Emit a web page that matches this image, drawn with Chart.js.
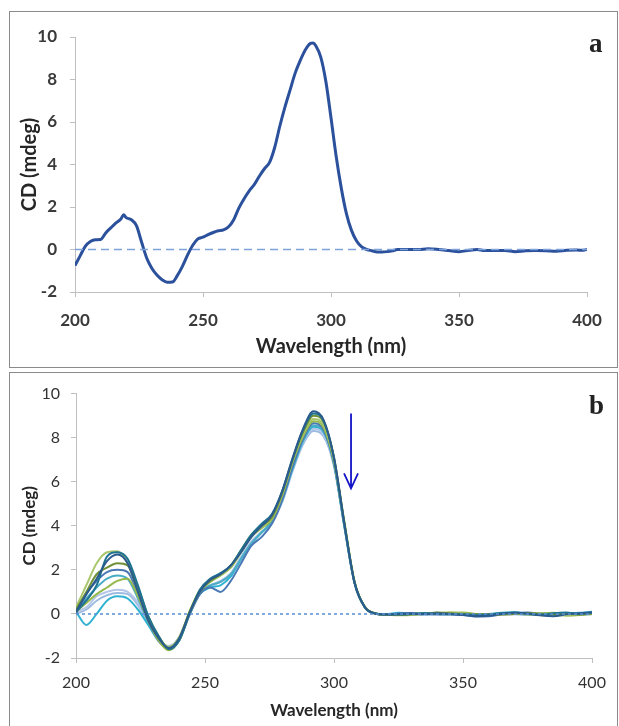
<!DOCTYPE html>
<html>
<head>
<meta charset="utf-8">
<script src="https://cdn.jsdelivr.net/npm/chart.js@4.4.1/dist/chart.umd.min.js"></script>
<style>
	html, body { margin: 0; padding: 0; background: #fff; }
	body { width: 619px; height: 726px; position: relative; overflow: hidden; }
	.panel { position: absolute; left: 9px; width: 607px; border: 1px solid #8a8a8a; background: #fff; }
	#panelA { top: 11px; height: 355px; }
	#panelB { top: 372px; height: 360px; }
	.panel canvas { position: absolute; left: 0; top: 0; }
	.tag { position: absolute; font-family: "Liberation Serif", serif; font-weight: bold; font-size: 27px; color: #222; }
</style>
</head>
<body>
<div class="panel" id="panelA"><canvas id="chartA" width="607" height="355"></canvas><div class="tag" style="left:579px;top:16px;">a</div></div>
<div class="panel" id="panelB"><canvas id="chartB" width="607" height="353"></canvas><div class="tag" style="left:579px;top:17px;">b</div></div>
<script>
// panel a: single CD spectrum
const wlA = [200, 202, 204, 206, 208, 210, 212, 214, 216, 218, 219, 220, 222, 224, 226, 228, 230, 232, 234, 236, 238, 240, 242, 244, 246, 248, 250, 252, 254, 256, 258, 260, 262, 264, 266, 268, 270, 272, 274, 276, 278, 280, 282, 284, 286, 288, 290, 292, 293, 294, 296, 298, 300, 302, 304, 306, 308, 310, 312, 314, 316, 318, 320, 322, 324, 326, 330, 334, 338, 342, 346, 350, 354, 357, 360, 364, 368, 372, 376, 380, 384, 388, 392, 396, 398, 400];
const cdA = [-0.75, -0.3, 0.15, 0.38, 0.46, 0.47, 0.78, 1.02, 1.25, 1.45, 1.63, 1.5, 1.4, 1.12, 0.35, -0.4, -0.88, -1.2, -1.42, -1.54, -1.53, -1.22, -0.78, -0.25, 0.2, 0.5, 0.58, 0.7, 0.8, 0.88, 0.92, 1.07, 1.4, 1.95, 2.38, 2.75, 3.05, 3.45, 3.8, 4.1, 4.8, 5.8, 6.7, 7.5, 8.3, 8.9, 9.4, 9.7, 9.72, 9.6, 9.05, 7.9, 6.2, 4.4, 2.9, 1.7, 0.9, 0.4, 0.12, 0.0, -0.06, -0.12, -0.12, -0.1, -0.06, 0.0, 0.0, 0.0, 0.03, 0.0, -0.05, -0.1, -0.04, 0.0, -0.05, -0.05, -0.05, -0.1, -0.06, -0.05, -0.06, -0.08, -0.04, -0.02, -0.04, 0.0];

// panel b: titration series, shared wavelength grid
const wlB = [200, 204, 208, 212, 216, 220, 224, 228, 232, 236, 240, 244, 248, 252, 256, 260, 264, 268, 272, 276, 280, 284, 288, 292, 296, 300, 304, 308, 312, 316, 320, 325, 330, 335, 340, 345, 350, 355, 360, 365, 370, 375, 380, 385, 390, 395, 400];
const cdB1 = [0.1, 0.9, 1.6, 2.4, 2.7, 2.3, 1.0, -0.3, -1.1, -1.55, -1.1, 0.05, 1.0, 1.55, 1.8, 2.2, 2.8, 3.5, 4.0, 4.5, 5.6, 7.1, 8.4, 9.2, 8.8, 7.1, 4.1, 1.4, 0.3, 0.02, -0.03, 0.0, 0.02, -0.02, 0.03, 0.0, -0.05, -0.1, -0.08, 0.0, 0.05, 0.02, -0.06, -0.1, -0.02, 0.03, 0.08];
const cdB2 = [0.1, 0.6, 1.3, 2.6, 2.8, 2.5, 1.3, -0.1, -1.0, -1.6, -1.2, 0.0, 1.1, 1.6, 1.85, 2.2, 2.9, 3.6, 4.1, 4.55, 5.6, 7.05, 8.35, 9.1, 8.75, 7.05, 4.1, 1.4, 0.3, 0.02, -0.02, -0.03, 0.0, 0.04, 0.0, -0.03, -0.02, -0.06, -0.03, 0.04, 0.06, 0.0, -0.04, 0.03, 0.06, 0.0, 0.05];
const cdB3 = [0.2, 1.0, 1.8, 2.1, 2.3, 2.2, 1.2, -0.1, -1.0, -1.6, -1.15, 0.1, 1.05, 1.5, 1.8, 2.2, 2.9, 3.6, 4.0, 4.4, 5.5, 7.0, 8.25, 9.0, 8.7, 7.1, 4.2, 1.45, 0.3, 0.02, -0.04, -0.05, -0.02, 0.0, 0.06, 0.03, 0.0, -0.02, 0.0, -0.03, 0.0, 0.04, 0.0, -0.02, 0.0, -0.04, 0.02];
const cdB4 = [0.3, 1.3, 2.3, 2.8, 2.85, 2.3, 1.0, -0.2, -1.05, -1.5, -1.05, 0.1, 1.1, 1.5, 1.75, 2.15, 2.85, 3.55, 3.95, 4.35, 5.45, 6.95, 8.15, 8.85, 8.55, 7.0, 4.15, 1.45, 0.32, 0.03, -0.02, -0.06, -0.05, 0.02, 0.04, 0.08, 0.02, -0.04, -0.05, 0.0, 0.03, -0.03, -0.06, -0.04, -0.08, -0.05, 0.0];
const cdB5 = [0.1, 0.5, 0.9, 1.2, 1.5, 1.6, 0.8, -0.3, -1.2, -1.65, -1.2, 0.0, 1.0, 1.45, 1.75, 2.1, 2.8, 3.5, 3.9, 4.3, 5.4, 6.9, 8.05, 8.75, 8.45, 6.9, 4.1, 1.4, 0.3, 0.02, -0.03, -0.04, 0.0, 0.03, 0.0, 0.05, 0.06, 0.0, -0.03, -0.02, 0.02, 0.0, 0.03, 0.05, 0.0, -0.02, 0.02];
const cdB6 = [0.0, 0.9, 1.5, 1.9, 2.0, 1.9, 0.9, -0.3, -1.2, -1.6, -1.2, -0.05, 0.9, 1.2, 1.0, 1.5, 2.3, 3.1, 3.5, 4.1, 5.2, 6.7, 7.95, 8.65, 8.35, 6.85, 4.05, 1.4, 0.3, 0.02, -0.05, 0.02, 0.04, 0.0, -0.03, 0.0, -0.04, -0.12, -0.1, -0.02, 0.04, 0.06, 0.0, -0.06, -0.03, 0.02, 0.06];
const cdB7 = [0.1, 0.7, 1.2, 1.6, 1.75, 1.6, 0.7, -0.35, -1.2, -1.55, -1.15, 0.0, 0.95, 1.3, 1.45, 1.8, 2.5, 3.2, 3.7, 4.2, 5.2, 6.7, 7.9, 8.55, 8.3, 6.8, 4.0, 1.4, 0.3, 0.02, -0.03, 0.0, -0.03, 0.02, 0.05, 0.02, 0.0, -0.05, -0.02, 0.03, 0.02, -0.02, 0.02, 0.04, 0.02, 0.0, 0.04];
const cdB8 = [0.1, -0.5, 0.0, 0.6, 0.8, 0.7, 0.2, -0.5, -1.2, -1.5, -1.1, 0.0, 0.9, 1.2, 1.3, 1.7, 2.5, 3.2, 3.7, 4.2, 5.2, 6.6, 7.85, 8.5, 8.25, 6.8, 4.0, 1.4, 0.3, 0.02, -0.02, 0.05, 0.02, -0.02, 0.0, 0.03, 0.0, -0.03, 0.0, 0.05, 0.08, 0.02, -0.03, 0.0, 0.03, 0.05, 0.1];
const cdB9 = [0.1, 0.3, 0.8, 1.0, 1.1, 1.0, 0.5, -0.4, -1.2, -1.45, -1.05, 0.05, 0.95, 1.3, 1.5, 1.85, 2.6, 3.3, 3.75, 4.2, 5.2, 6.6, 7.8, 8.4, 8.15, 6.75, 4.0, 1.4, 0.3, 0.02, -0.02, -0.02, -0.04, 0.0, 0.02, -0.02, -0.03, -0.05, -0.04, -0.02, 0.0, -0.03, -0.04, -0.02, -0.03, -0.02, 0.0];
const cdB10 = [0.0, 0.2, 0.6, 0.85, 0.95, 0.9, 0.4, -0.45, -1.25, -1.5, -1.1, 0.0, 0.9, 1.25, 1.45, 1.8, 2.55, 3.25, 3.7, 4.15, 5.1, 6.5, 7.7, 8.3, 8.05, 6.7, 3.95, 1.35, 0.3, 0.02, -0.03, -0.03, -0.02, 0.0, 0.0, 0.02, 0.0, -0.03, -0.02, 0.0, -0.02, -0.04, -0.02, 0.0, -0.02, -0.03, -0.02];
const seriesB = [cdB1, cdB2, cdB3, cdB4, cdB5, cdB6, cdB7, cdB8, cdB9, cdB10];
const colorsB = ["#2a5b8c", "#1f7391", "#6f9036", "#a9c66c", "#95b94c", "#4a78b5", "#4bacc6", "#2fb2d2", "#b4c6e7", "#9dbbe0"];

// axis ranges / ticks shared by both panels
const xRange = [200, 400];
const xStep = 50;
const yRange = [-2, 10];
const yStep = 2;

// decreasing-signal arrow in panel b (data units)
const arrowX = 306.6;
const arrowFrom = 9.1;
const arrowTo = 5.7;

const toPoints = (xs, ys) => xs.map((x, i) => ({ x: x, y: ys[i] }));

const baseLine = (color, dash) => ({
	data: toPoints(xRange, [0, 0]),
	borderColor: color,
	borderWidth: 1.5,
	borderDash: dash,
	pointRadius: 0,
	tension: 0,
});

const axes = (o) => ({
	x: {
		type: "linear",
		min: xRange[0],
		max: xRange[1],
		afterFit: (s) => { s.height = o.xh; },
		grid: { drawOnChartArea: false, drawTicks: true, tickLength: 5, color: "#bfbfbf" },
		border: { display: true, color: "#bfbfbf", width: 1 },
		ticks: { stepSize: xStep, padding: o.xpad, color: o.tickColor, font: { family: "Lato", size: o.tickSize, weight: o.tickWeight } },
		title: { display: true, text: "Wavelength (nm)", color: "#262626", padding: { top: 0, bottom: o.xtpad }, font: { family: "Lato", size: o.titleSize, weight: "bold" } },
	},
	y: {
		min: yRange[0],
		max: yRange[1],
		afterFit: (s) => { s.width = o.yw; },
		grid: { drawOnChartArea: false, drawTicks: true, tickLength: 5, color: "#bfbfbf" },
		border: { display: true, color: "#bfbfbf", width: 1 },
		ticks: { stepSize: yStep, padding: o.ypad, color: o.tickColor, font: { family: "Lato", size: o.tickSize, weight: o.tickWeight } },
		title: { display: true, text: "CD (mdeg)", color: "#262626", padding: { top: o.ytpad, bottom: 0 }, font: { family: "Lato", size: o.titleSize, weight: "bold" } },
	},
});

const arrowPlugin = {
	id: "arrow",
	afterDatasetsDraw(chart) {
		const x = chart.scales.x.getPixelForValue(arrowX);
		const y0 = chart.scales.y.getPixelForValue(arrowFrom);
		const y1 = chart.scales.y.getPixelForValue(arrowTo);
		const ctx = chart.ctx;
		ctx.save();
		ctx.strokeStyle = "#1414c8";
		ctx.lineWidth = 1.8;
		ctx.beginPath();
		ctx.moveTo(x, y0);
		ctx.lineTo(x, y1);
		ctx.moveTo(x - 7, y1 - 15);
		ctx.lineTo(x, y1);
		ctx.lineTo(x + 7, y1 - 15);
		ctx.stroke();
		ctx.restore();
	},
};

new Chart(document.getElementById("chartA"), {
	type: "line",
	data: {
		datasets: [
			baseLine("#7ea2da", [8, 5]),
			{
				data: toPoints(wlA, cdA),
				borderColor: "#2b509c",
				borderWidth: 3,
				pointRadius: 0,
				cubicInterpolationMode: "monotone",
			},
		],
	},
	options: {
		responsive: false,
		animation: false,
		events: [],
		layout: { padding: { top: 25, right: 30, bottom: 0, left: 0 } },
		plugins: { legend: { display: false }, tooltip: { enabled: false } },
		scales: axes({ xh: 75, yw: 65, xpad: 13, ypad: 13, xtpad: 8, ytpad: 8, tickSize: 17, tickWeight: "bold", tickColor: "#3a3a3a", titleSize: 20 }),
	},
});

new Chart(document.getElementById("chartB"), {
	type: "line",
	data: {
		datasets: [baseLine("#5b8fd6", [3, 3])].concat(
			seriesB.map((ys, i) => ({
				data: toPoints(wlB, ys),
				borderColor: colorsB[i],
				borderWidth: 2,
				pointRadius: 0,
				cubicInterpolationMode: "monotone",
			}))
		),
	},
	options: {
		responsive: false,
		animation: false,
		events: [],
		layout: { padding: { top: 19, right: 25, bottom: 0, left: 0 } },
		plugins: { legend: { display: false }, tooltip: { enabled: false } },
		scales: axes({ xh: 68, yw: 66, xpad: 10, ypad: 11, xtpad: 5, ytpad: 9, tickSize: 16, tickWeight: "normal", tickColor: "#333333", titleSize: 17 }),
	},
	plugins: [arrowPlugin],
});
</script>
</body>
</html>
